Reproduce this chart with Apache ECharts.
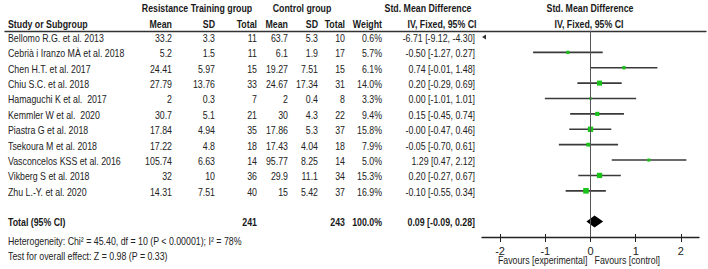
<!DOCTYPE html>
<html>
<head>
<meta charset="utf-8">
<title>Forest plot</title>
<script src="https://cdn.jsdelivr.net/npm/echarts@6/dist/echarts.min.js"></script>
<style>
html,body{margin:0;padding:0;background:#fff}
#chart{width:708px;height:269px}
</style>
</head>
<body>
<div id="chart"></div>
<script>
// study rows
var studies = ['Bellomo R.G. et al. 2013', 'Cebrià i Iranzo MÀ et al. 2018', 'Chen H.T. et al. 2017',
  'Chiu S.C. et al. 2018', 'Hamaguchi K et al.  2017', 'Kemmler W et al.  2020', 'Piastra G et al. 2018',
  'Tsekoura M et al. 2018', 'Vasconcelos KSS et al. 2016', 'Vikberg S et al. 2018', 'Zhu L.-Y. et al. 2020'];
var rtMean = [33.2, 5.2, 24.41, 27.79, 2, 30.7, 17.84, 17.22, 105.74, 32, 14.31];
var rtSD = [3.3, 1.5, 5.97, 13.76, 0.3, 5.1, 4.94, 4.8, 6.63, 10, 7.51];
var rtTotal = [11, 11, 15, 33, 7, 21, 35, 18, 14, 36, 40];
var ctMean = [63.7, 6.1, 19.27, 24.67, 2, 30, 17.86, 17.43, 95.77, 29.9, 15];
var ctSD = [5.3, 1.9, 7.51, 17.34, 0.4, 4.3, 5.3, 4.04, 8.25, 11.1, 5.42];
var ctTotal = [10, 17, 15, 31, 8, 22, 37, 18, 14, 34, 37];
var weight = [0.6, 5.7, 6.1, 14.0, 3.3, 9.4, 15.8, 7.9, 5.0, 15.3, 16.9];
var smd = [-6.71, -0.50, 0.74, 0.20, 0.00, 0.15, -0.00, -0.05, 1.29, 0.20, -0.10];
var ciLow = [-9.12, -1.27, -0.01, -0.29, -1.01, -0.45, -0.47, -0.70, 0.47, -0.27, -0.55];
var ciHigh = [-4.30, 0.27, 1.48, 0.69, 1.01, 0.74, 0.46, 0.61, 2.12, 0.67, 0.34];
// pooled
var totalN = [241, 243];
var totalWeight = 100.0;
var totalEffect = [0.09, -0.09, 0.28]; // est, low, high
var hetText = 'Heterogeneity: Chi² = 45.40, df = 10 (P < 0.00001); I² = 78%';
var testText = 'Test for overall effect: Z = 0.98 (P = 0.33)';
var favourLabels = ['Favours [experimental]', 'Favours [control]'];
var axisTicks = [-2, -1, 0, 1, 2];

var FONT = '"Liberation Sans", Arial, sans-serif';
var NARROW = 0.8; // no narrow font installed, squeeze horizontally
var XMIN = -2.4, XMAX = 2.4;
var TOTAL_ROW = 12;

function f2(v) {
  var neg = v < 0 || Object.is(v, -0);
  return (neg ? '-' : '') + Math.abs(v).toFixed(2);
}
function ciStr(e, l, h) { return f2(e) + ' [' + f2(l) + ', ' + f2(h) + ']'; }

// table columns (right edges)
var colX = {study: 8, rtMean: 172, rtSD: 215, rtTotal: 257, ctMean: 288, ctSD: 318, ctTotal: 345, weight: 382, smd: 475};

function cell(x, text, align, bold) { return {x: x, text: String(text), align: align || 'right', bold: !!bold}; }

var tableRows = [];
tableRows.push({row: -1.97, cells: [
  cell(197, 'Resistance Training group', 'center', true),
  cell(302, 'Control group', 'center', true),
  cell(428, 'Std. Mean Difference', 'center', true),
  cell(590, 'Std. Mean Difference', 'center', true)
]});
tableRows.push({row: -0.93, cells: [
  cell(colX.study, 'Study or Subgroup', 'left', true),
  cell(colX.rtMean, 'Mean', 'right', true), cell(colX.rtSD, 'SD', 'right', true), cell(colX.rtTotal, 'Total', 'right', true),
  cell(colX.ctMean, 'Mean', 'right', true), cell(colX.ctSD, 'SD', 'right', true), cell(colX.ctTotal, 'Total', 'right', true),
  cell(colX.weight, 'Weight', 'right', true),
  cell(442, 'IV, Fixed, 95% CI', 'center', true),
  cell(589, 'IV, Fixed, 95% CI', 'center', true)
]});
studies.forEach(function (s, i) {
  tableRows.push({row: i, cells: [
    cell(colX.study, s, 'left'),
    cell(colX.rtMean, rtMean[i]), cell(colX.rtSD, rtSD[i]), cell(colX.rtTotal, rtTotal[i]),
    cell(colX.ctMean, ctMean[i]), cell(colX.ctSD, ctSD[i]), cell(colX.ctTotal, ctTotal[i]),
    cell(colX.weight, weight[i].toFixed(1) + '%'),
    cell(colX.smd, ciStr(smd[i], ciLow[i], ciHigh[i]))
  ]});
});
tableRows.push({row: TOTAL_ROW, cells: [
  cell(colX.study, 'Total (95% CI)', 'left', true),
  cell(colX.rtTotal, totalN[0], 'right', true),
  cell(colX.ctTotal, totalN[1], 'right', true),
  cell(colX.weight, totalWeight.toFixed(1) + '%', 'right', true),
  cell(colX.smd, ciStr(totalEffect[0], totalEffect[1], totalEffect[2]), 'right', true)
]});
tableRows.push({row: 13.2, cells: [cell(colX.study, hetText, 'left')]});
tableRows.push({row: 14.18, cells: [cell(colX.study, testText, 'left')]});

function textEl(x, y, t, align, bold) {
  return {
    type: 'text', x: x, y: y, scaleX: NARROW,
    style: {text: t, align: align, verticalAlign: 'middle',
      fontFamily: FONT, fontSize: 11, fontWeight: bold ? 'bold' : 'normal',
      fill: bold ? '#1a1a1a' : '#222'}
  };
}

var myChart = echarts.init(document.getElementById('chart'), null, {renderer: 'svg'});

var yAxisBase = {type: 'value', inverse: true, min: -0.4, max: 13, show: false};

var option = {
  animation: false,
  grid: [
    {left: 5, right: 2, top: 30.8, bottom: 32},   // table
    {left: 482, right: 9, top: 30.8, bottom: 32}  // forest
  ],
  xAxis: [
    {gridIndex: 0, type: 'value', min: 5, max: 706, position: 'top',
      axisLine: {show: true, onZero: false, lineStyle: {color: '#333', width: 1.3}},
      axisTick: {show: false}, axisLabel: {show: false}, splitLine: {show: false}},
    {gridIndex: 1, type: 'value', min: XMIN, max: XMAX, position: 'bottom',
      axisLine: {show: true, onZero: false, lineStyle: {color: '#222', width: 1.3}},
      axisTick: {show: true, length: 5, customValues: axisTicks, lineStyle: {color: '#222', width: 1}},
      axisLabel: {show: true, customValues: axisTicks, margin: 8, fontSize: 11, fontFamily: FONT, color: '#222'},
      splitLine: {show: false}},
    {gridIndex: 1, type: 'value', min: XMIN, max: XMAX, position: 'bottom',
      axisLine: {show: false, onZero: false},
      axisTick: {show: true, inside: true, length: 3, customValues: axisTicks, lineStyle: {color: '#222', width: 1}},
      axisLabel: {show: false}, splitLine: {show: false}}
  ],
  yAxis: [
    Object.assign({gridIndex: 0}, yAxisBase),
    Object.assign({gridIndex: 1}, yAxisBase)
  ],
  series: [
    {
      // table text
      type: 'custom', xAxisIndex: 0, yAxisIndex: 0, clip: false,
      data: tableRows.map(function (r) { return [5, r.row]; }),
      renderItem: function (params, api) {
        var r = tableRows[params.dataIndex];
        var y = api.coord([5, r.row])[1] + 1;
        return {
          type: 'group',
          children: r.cells.map(function (c) {
            return textEl(api.coord([c.x, r.row])[0], y, c.text, c.align, c.bold);
          })
        };
      }
    },
    {
      // zero line
      type: 'line', xAxisIndex: 1, yAxisIndex: 1, symbol: 'none', silent: true,
      data: [[0, -0.4], [0, 13]],
      lineStyle: {color: '#555', width: 1}
    },
    {
      // study estimates
      type: 'custom', xAxisIndex: 1, yAxisIndex: 1, clip: false,
      data: studies.map(function (s, i) { return [smd[i], i, ciLow[i], ciHigh[i], weight[i]]; }),
      renderItem: function (params, api) {
        var row = api.value(1);
        var lo = api.value(2), hi = api.value(3), est = api.value(0);
        var p0 = api.coord([XMIN, row]);
        if (hi < XMIN) {
          // off-scale to the left: arrow only
          return {type: 'polygon', shape: {points: [[p0[0], p0[1]], [p0[0] + 4, p0[1] - 2.5], [p0[0] + 4, p0[1] + 2.5]]},
            style: {fill: '#333'}};
        }
        var a = api.coord([Math.max(lo, XMIN), row]);
        var b = api.coord([Math.min(hi, XMAX), row]);
        var c = api.coord([est, row]);
        var s = 1.35 * Math.sqrt(api.value(4));
        return {
          type: 'group',
          children: [
            {type: 'line', shape: {x1: a[0], y1: a[1], x2: b[0], y2: b[1]}, style: {stroke: '#3a3a3a', lineWidth: 1.6}},
            {type: 'rect', shape: {x: c[0] - s / 2, y: c[1] - s / 2, width: s, height: s}, style: {fill: '#19c219'}}
          ]
        };
      }
    },
    {
      // pooled diamond
      type: 'custom', xAxisIndex: 1, yAxisIndex: 1, clip: false,
      data: [[totalEffect[0], TOTAL_ROW, totalEffect[1], totalEffect[2]]],
      renderItem: function (params, api) {
        var row = api.value(1);
        var l = api.coord([api.value(2), row]);
        var h = api.coord([api.value(3), row]);
        var e = api.coord([api.value(0), row]);
        return {type: 'polygon', shape: {points: [[l[0], l[1]], [e[0], e[1] - 6], [h[0], h[1]], [e[0], e[1] + 6]]},
          style: {fill: '#000'}};
      }
    },
    {
      // favours labels under the axis
      type: 'custom', xAxisIndex: 1, yAxisIndex: 1, clip: false,
      data: [[-0.07, 14.5], [0.09, 14.5]],
      renderItem: function (params, api) {
        var p = api.coord([api.value(0), api.value(1)]);
        return textEl(p[0], p[1], favourLabels[params.dataIndex], params.dataIndex === 0 ? 'right' : 'left', false);
      }
    }
  ]
};
myChart.setOption(option);
window.addEventListener('resize', function () {
  myChart.resize();
});
</script>
</body>
</html>
